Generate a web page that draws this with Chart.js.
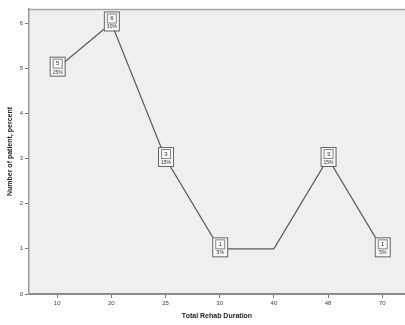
<!DOCTYPE html>
<html>
<head>
<meta charset="utf-8">
<script src="https://cdn.jsdelivr.net/npm/chart.js@4"></script>
<style>
    html, body { margin: 0; padding: 0; background: #fff; }
    #wrap { width: 405px; height: 325px; }
</style>
</head>
<body>
<div id="wrap"><canvas id="chart" width="405" height="325"></canvas></div>
<script>
// Data
const durations = ['10', '20', '25', '30', '40', '48', '70'];
const patientCounts = [5, 6, 3, 1, 1, 3, 1];
const percentLabels = ['25%', '30%', '15%', '5%', '', '15%', '5%'];
const showBox = [true, true, true, true, false, true, true];

// Grey plot background like SPSS
const plotBackground = {
    id: 'plotBackground',
    beforeDraw(chart) {
        const { ctx, chartArea: a } = chart;
        ctx.save();
        ctx.fillStyle = '#efefef';
        ctx.fillRect(a.left, a.top, a.right - a.left, a.bottom - a.top);
        ctx.strokeStyle = '#a8a8a8';
        ctx.lineWidth = 1.5;
        ctx.beginPath();
        ctx.moveTo(a.left, a.top + 0.5);
        ctx.lineTo(a.right, a.top + 0.5);
        ctx.stroke();
        ctx.restore();
    }
};

// count / percent boxes on the points
const pointBoxes = {
    id: 'pointBoxes',
    afterDatasetsDraw(chart) {
        const { ctx } = chart;
        const meta = chart.getDatasetMeta(0);
        ctx.save();
        meta.data.forEach((pt, i) => {
            if (!showBox[i]) return;
            const w = 15, h = 19;
            const x = pt.x - w / 2, y = pt.y - h / 2 - 2;
            ctx.fillStyle = '#f7f7f7';
            ctx.fillRect(x, y, w, h);
            ctx.strokeStyle = '#666';
            ctx.lineWidth = 1;
            ctx.strokeRect(x + 0.5, y + 0.5, w, h);
            ctx.strokeStyle = '#888';
            ctx.strokeRect(x + 3.5, y + 2.5, w - 6, 9);
            ctx.fillStyle = '#333';
            ctx.font = '6px "Liberation Sans", Arial, sans-serif';
            ctx.textAlign = 'center';
            ctx.textBaseline = 'middle';
            ctx.fillText(String(patientCounts[i]), pt.x + 0.5, y + 7);
            ctx.font = '5px "Liberation Sans", Arial, sans-serif';
            ctx.fillText(percentLabels[i], pt.x + 0.5, y + 15.5);
        });
        ctx.restore();
    }
};

const points = patientCounts.map((v, i) => ({ x: i, y: v }));

new Chart(document.getElementById('chart').getContext('2d'), {
    type: 'line',
    data: {
        datasets: [{
            data: points,
            borderColor: '#5a5a5a',
            borderWidth: 1.2,
            pointRadius: 0,
            tension: 0,
            fill: false
        }]
    },
    options: {
        responsive: false,
        animation: false,
        layout: { padding: { top: 9, right: 0, left: 6, bottom: 5 } },
        plugins: {
            legend: { display: false },
            tooltip: { enabled: false }
        },
        scales: {
            x: {
                type: 'linear',
                min: -0.52,
                max: 6.42,
                afterBuildTicks(scale) {
                    scale.ticks = durations.map((d, i) => ({ value: i }));
                },
                afterFit(scale) { scale.height = 26; },
                border: { color: '#8a8a8a', width: 2 },
                grid: { drawOnChartArea: false, tickLength: 4, color: '#777' },
                ticks: {
                    color: '#444',
                    font: { family: '"Liberation Sans", Arial, sans-serif', size: 6 },
                    padding: 2,
                    callback: (v) => durations[v]
                },
                title: {
                    display: true,
                    text: 'Total Rehab Duration',
                    color: '#222',
                    font: { family: '"Liberation Sans", Arial, sans-serif', size: 7, weight: 'bold' },
                    padding: { top: 0, bottom: 0 }
                }
            },
            y: {
                min: 0,
                max: 6.31,
                afterBuildTicks(scale) {
                    scale.ticks = [0, 1, 2, 3, 4, 5, 6].map(v => ({ value: v }));
                },
                afterFit(scale) { scale.width = 23; },
                border: { color: '#9a9a9a', width: 1.5 },
                grid: { drawOnChartArea: false, tickLength: 4, color: '#777' },
                ticks: {
                    color: '#444',
                    font: { family: '"Liberation Sans", Arial, sans-serif', size: 6 },
                    padding: 2
                },
                title: {
                    display: true,
                    text: 'Number of patient, percent',
                    color: '#222',
                    font: { family: '"Liberation Sans", Arial, sans-serif', size: 7, weight: 'bold' },
                    padding: { top: 0, bottom: 2 }
                }
            }
        }
    },
    plugins: [plotBackground, pointBoxes]
});
</script>
</body>
</html>
